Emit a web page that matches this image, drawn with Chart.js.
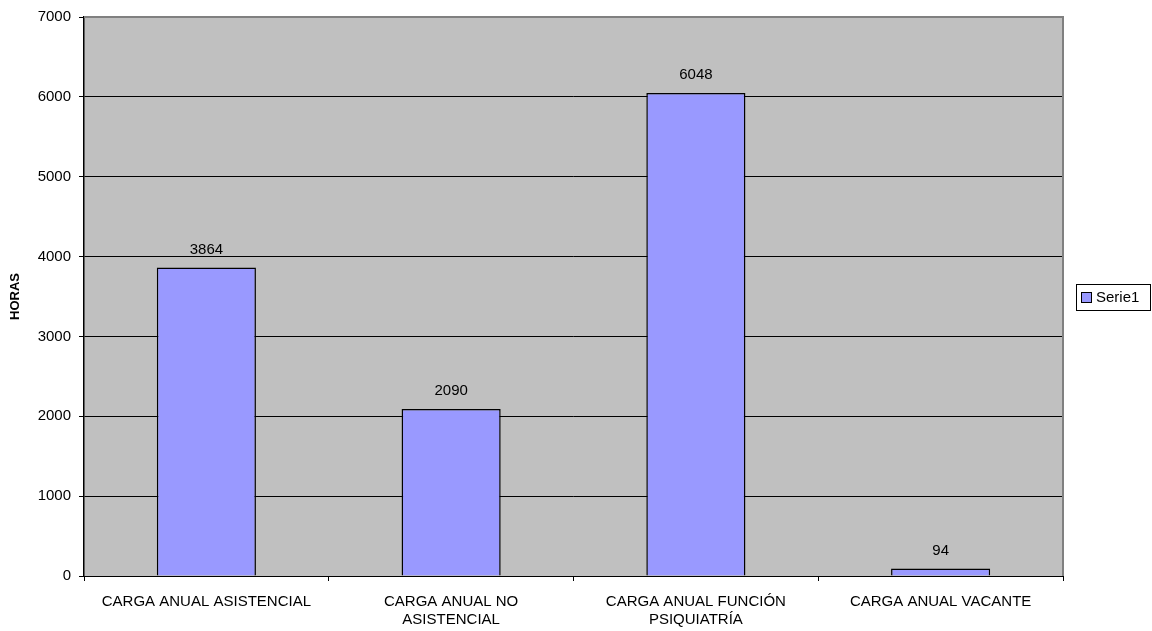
<!DOCTYPE html>
<html>
<head>
<meta charset="utf-8">
<script src="https://cdn.jsdelivr.net/npm/chart.js@4/dist/chart.umd.min.js"></script>
<style>
html,body{margin:0;padding:0;background:#fff;}
#wrap{width:1152px;height:631px;position:relative;}
</style>
</head>
<body>
<div id="wrap"><canvas id="c" width="1152" height="631"></canvas></div>
<script>
const categories = [
  'CARGA ANUAL ASISTENCIAL',
  ['CARGA ANUAL NO', 'ASISTENCIAL'],
  ['CARGA ANUAL FUNCIÓN', 'PSIQUIATRÍA'],
  'CARGA ANUAL VACANTE'
];
const seriesName = 'Serie1';
const seriesValues = [3864, 2090, 6048, 94];
const yTicks = [0, 1000, 2000, 3000, 4000, 5000, 6000, 7000];
const yTitle = 'HORAS';

const FONT = "'Liberation Sans', Arial, sans-serif";
const BAR_COLOR = '#9999FF';

const bgPlugin = {
  id: 'bg',
  beforeDraw(chart) {
    const {ctx, chartArea: a} = chart;
    ctx.save();
    ctx.fillStyle = '#C0C0C0';
    ctx.fillRect(a.left, a.top, a.right - a.left, a.bottom - a.top);
    ctx.restore();
  },
  afterDraw(chart) {
    const {ctx, chartArea: a} = chart;
    ctx.save();
    ctx.strokeStyle = '#808080';
    ctx.lineWidth = 2;
    ctx.beginPath();
    ctx.moveTo(a.left, a.top);
    ctx.lineTo(a.right, a.top);
    ctx.lineTo(a.right, a.bottom);
    ctx.stroke();
    ctx.restore();
  }
};

const valuePlugin = {
  id: 'values',
  afterDatasetsDraw(chart) {
    const {ctx} = chart;
    const meta = chart.getDatasetMeta(0);
    ctx.save();
    ctx.font = '15px ' + FONT;
    ctx.fillStyle = '#000';
    ctx.textAlign = 'center';
    ctx.textBaseline = 'middle';
    meta.data.forEach((bar, i) => {
      ctx.fillText(String(chart.data.datasets[0].data[i]), bar.x, bar.y - 18);
    });
    ctx.restore();
  }
};

const legendPlugin = {
  id: 'customLegend',
  afterDraw(chart) {
    const {ctx, chartArea: a} = chart;
    const ds = chart.data.datasets[0];
    const cy = (a.top + a.bottom) / 2;
    const x0 = 1076, w = 74, h = 26;
    const y0 = Math.round(cy - h / 2);
    ctx.save();
    ctx.fillStyle = '#fff';
    ctx.fillRect(x0, y0, w, h);
    ctx.strokeStyle = '#000';
    ctx.lineWidth = 1;
    ctx.strokeRect(x0 + 0.5, y0 + 0.5, w, h);
    ctx.fillStyle = ds.backgroundColor;
    ctx.fillRect(x0 + 5, y0 + 8, 10, 10);
    ctx.strokeRect(x0 + 5.5, y0 + 8.5, 10, 10);
    ctx.fillStyle = '#000';
    ctx.font = '15px ' + FONT;
    ctx.textAlign = 'left';
    ctx.textBaseline = 'middle';
    ctx.fillText(ds.label, x0 + 20, y0 + h / 2 + 1);
    ctx.restore();
  }
};

new Chart(document.getElementById('c'), {
  type: 'bar',
  data: {
    labels: categories,
    datasets: [{
      label: seriesName,
      data: seriesValues,
      backgroundColor: BAR_COLOR,
      borderColor: '#000',
      borderWidth: 1.5,
      barPercentage: 0.405,
      categoryPercentage: 1.0
    }]
  },
  options: {
    responsive: false,
    animation: false,
    devicePixelRatio: 1,
    layout: { padding: { top: 16, right: 89, left: 0, bottom: 0 } },
    plugins: {
      legend: { display: false },
      tooltip: { enabled: false }
    },
    scales: {
      x: {
        afterFit(scale) { scale.height = 55; },
        grid: {
          offset: true,
          drawOnChartArea: false,
          drawTicks: true,
          tickLength: 5,
          color: '#000'
        },
        border: { display: true, color: '#000', width: 1 },
        ticks: {
          color: '#000',
          padding: 12,
          maxRotation: 0,
          autoSkip: false,
          font: { family: FONT, size: 15, lineHeight: 1.2 }
        }
      },
      y: {
        min: 0,
        max: 7000,
        afterFit(scale) { scale.width = 84; },
        afterBuildTicks(scale) { scale.ticks = yTicks.map(v => ({ value: v })); },
        grid: {
          color: '#000',
          lineWidth: 1,
          tickLength: 5,
          drawTicks: true
        },
        border: { display: true, color: '#000', width: 1.5 },
        title: {
          display: true,
          text: yTitle,
          color: '#000',
          padding: { top: 8, bottom: 0 },
          font: { family: FONT, size: 13, weight: 'bold' }
        },
        ticks: {
          color: '#000',
          padding: 8,
          font: { family: FONT, size: 15 },
          callback: v => String(v)
        }
      }
    }
  },
  plugins: [bgPlugin, valuePlugin, legendPlugin]
});
</script>
</body>
</html>
